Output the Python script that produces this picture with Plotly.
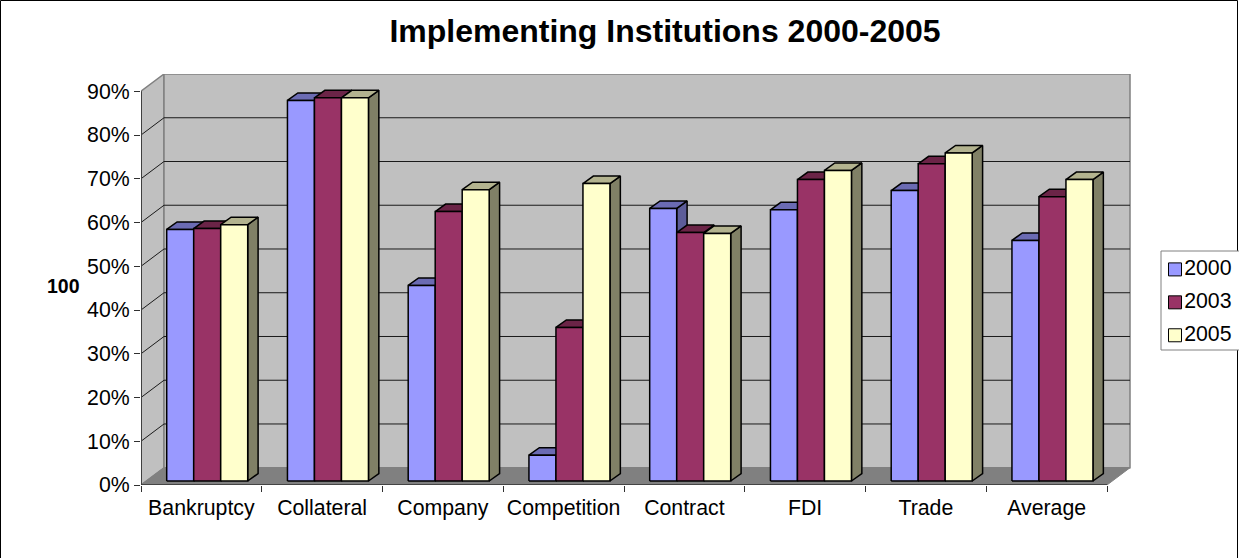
import plotly.graph_objects as go

categories = ["Bankruptcy", "Collateral", "Company", "Competition", "Contract", "FDI", "Trade", "Average"]
years = ["2000", "2003", "2005"]
v2000 = [57.5, 87.0, 44.7, 5.9, 62.3, 62.0, 66.4, 55.0]
v2003 = [57.7, 87.6, 61.6, 35.1, 56.8, 68.9, 72.5, 65.0]
v2005 = [58.6, 87.6, 66.6, 68.0, 56.6, 71.0, 75.0, 68.9]
y_ticks = [0, 10, 20, 30, 40, 50, 60, 70, 80, 90]
y_labels = [f"{t}%" for t in y_ticks]

front = ["#9999FF", "#993366", "#FFFFCC"]
top = ["#6B6BB3", "#6B2447", "#B3B38F"]
side = ["#5C5C99", "#5C1F3D", "#808066"]

# Oblique projection, in axis units
PX_X, PX_Y = 120.75, 4.383
WALL_DX, WALL_DY = 23 / PX_X, 17.3 / PX_Y
BAR_DX, BAR_DY = 10.4 / PX_X, 7.5 / PX_Y
BASE_DY = 4 / PX_Y
BAR_START, BAR_W = 25.7 / PX_X, 27 / PX_X
XMAX, YMAX = 8 + WALL_DX, 90 + WALL_DY
FONT = "Liberation Sans, Arial, sans-serif"
LS = 21.3

W, H = 1239, 558
L, R, T, B = 141, 1239, 74, 485
PW, PH = R - L, B - T
X_RANGE_MAX = PW / PX_X

fig = go.Figure()


def poly(xs, ys, fill, line="black", w=1.5):
    fig.add_trace(go.Scatter(x=xs + xs[:1], y=ys + ys[:1], mode="lines", fill="toself", fillcolor=fill,
                             line=dict(color=line, width=w), hoverinfo="skip", showlegend=False, cliponaxis=False))


def seg(xs, ys, color, w=1):
    fig.add_trace(go.Scatter(x=xs, y=ys, mode="lines", line=dict(color=color, width=w), hoverinfo="skip",
                             showlegend=False, cliponaxis=False))


# walls and floor
poly([0, WALL_DX, WALL_DX, 0], [0, WALL_DY, YMAX, 90], "#C0C0C0", "#808080", 1.5)
poly([WALL_DX, XMAX, XMAX, WALL_DX], [WALL_DY, WALL_DY, YMAX, YMAX], "#C0C0C0", "#808080", 1.5)
poly([0, 8, XMAX, WALL_DX], [0, 0, WALL_DY, WALL_DY], "#808080", "#808080", 1)
for t in y_ticks[1:-1]:
    seg([0, WALL_DX, XMAX], [t, t + WALL_DY, t + WALL_DY], "#1a1a1a", 1)

# bars
for c in range(len(categories)):
    for s, vals in enumerate([v2000, v2003, v2005]):
        x0 = c + BAR_START + s * BAR_W
        x1 = x0 + BAR_W
        y0 = BASE_DY
        y1 = BASE_DY + vals[c]
        poly([x1, x1 + BAR_DX, x1 + BAR_DX, x1], [y0, y0 + BAR_DY, y1 + BAR_DY, y1], side[s])
        poly([x0, x1, x1 + BAR_DX, x0 + BAR_DX], [y1, y1, y1 + BAR_DY, y1 + BAR_DY], top[s])
        poly([x0, x1, x1, x0], [y0, y0, y1, y1], front[s])

# axis lines
seg([0, 0], [0, 90], "#404040", 2)
seg([0, 8], [0, 0], "#303030", 1.5)

# legend
LEG_X = (1175 - L) / PX_X
LEG_PX = [269, 302, 335]
for s, y in enumerate(years):
    fig.add_trace(go.Scatter(x=[LEG_X], y=[(B - LEG_PX[s]) / PX_Y], mode="markers+text", text=[y],
                             textposition="middle right", textfont=dict(size=LS, family=FONT),
                             marker=dict(symbol="square", size=13, color=front[s], line=dict(color="black", width=1)),
                             hoverinfo="skip", showlegend=False, cliponaxis=False))

fig.update_layout(
    width=W, height=H, autosize=False, showlegend=False,
    margin=dict(l=L, r=W - R, t=T, b=H - B, pad=0, autoexpand=False),
    paper_bgcolor="white", plot_bgcolor="white", font=dict(family=FONT, size=LS, color="black"),
    title=dict(text="<b>Implementing Institutions 2000-2005</b>", font=dict(size=32, family=FONT),
               x=665 / W, xanchor="center", y=1 - 31 / H, yanchor="middle"),
    xaxis=dict(range=[0, X_RANGE_MAX], tickmode="array", tickvals=[i + 0.5 for i in range(8)], ticktext=categories,
               ticks="", showgrid=False, zeroline=False, showline=False, tickfont=dict(size=LS),
               ticklabelstandoff=8,
               minor=dict(tickmode="array", tickvals=list(range(9)), ticks="outside", ticklen=6, tickcolor="#303030",
                          tickwidth=1, showgrid=False)),
    yaxis=dict(range=[0, YMAX], tickmode="array", tickvals=y_ticks, ticktext=y_labels, ticks="outside", ticklen=6,
               tickcolor="#303030", tickwidth=1, showgrid=False, zeroline=False, showline=False,
               tickfont=dict(size=LS)),
    shapes=[dict(type="rect", xref="paper", yref="paper",
                 x0=(0.5 - L) / PW, x1=(1237.5 - L) / PW, y0=(B - 600) / PH, y1=(B - 0.5) / PH,
                 line=dict(color="black", width=1), fillcolor="rgba(0,0,0,0)", layer="below"),
            dict(type="rect", xref="paper", yref="paper",
                 x0=(1161 - L) / PW, x1=(1245 - L) / PW, y0=(B - 350) / PH, y1=(B - 251) / PH,
                 line=dict(color="#808080", width=1), fillcolor="white", layer="below")],
    annotations=[dict(text="<b>100</b>", xref="paper", yref="paper", x=(63.5 - L) / PW, y=(B - 286) / PH,
                      xanchor="center", yanchor="middle", showarrow=False, font=dict(size=19.5, family=FONT))],
)

fig.write_html("out.html", config={"displayModeBar": False}, post_script="document.body.style.margin='0';")
